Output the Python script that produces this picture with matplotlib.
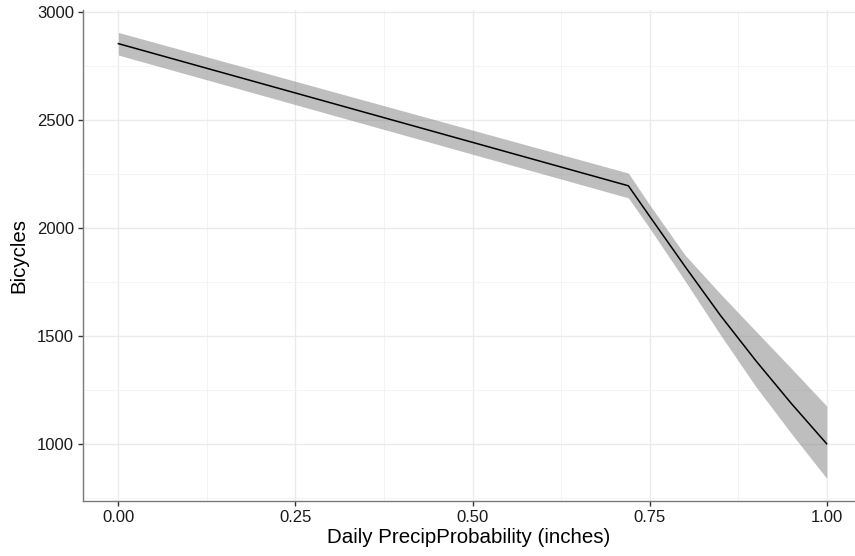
import matplotlib
matplotlib.use("Agg")
import matplotlib.pyplot as plt
from matplotlib.ticker import MultipleLocator

plt.rcParams['font.family'] = ['Liberation Sans', 'DejaVu Sans']

# fitted curve and confidence band
precip = [0.00, 0.72, 0.75, 0.80, 0.85, 0.90, 0.95, 1.00]
fit = [2855, 2196, 2055, 1822, 1595, 1385, 1187, 1000]
upper = [2907, 2255, 2108, 1875, 1695, 1522, 1350, 1175]
lower = [2802, 2140, 2000, 1755, 1505, 1265, 1048, 840]

xticks = [0.00, 0.25, 0.50, 0.75, 1.00]
xticklabels = ["0.00", "0.25", "0.50", "0.75", "1.00"]
yticks = [1000, 1500, 2000, 2500, 3000]

fig = plt.figure(figsize=(8.55, 5.56), dpi=100)
ax = fig.add_axes([83/855, 55.3/556, (855-83)/855, 490.7/556])

ax.fill_between(precip, lower, upper, color='#7f7f7f', alpha=0.5, linewidth=0, zorder=2)
ax.plot(precip, fit, color='black', linewidth=1.1, zorder=3)

ax.set_xlim(-0.05, 1.04)
ax.set_ylim(736, 3011)
ax.set_xticks(xticks)
ax.set_xticklabels(xticklabels)
ax.set_yticks(yticks)
ax.xaxis.set_minor_locator(MultipleLocator(0.125))
ax.yaxis.set_minor_locator(MultipleLocator(250))

ax.grid(True, which='major', color='#EBEBEB', linewidth=1.0, zorder=0)
ax.grid(True, which='minor', color='#F3F3F3', linewidth=0.6, zorder=0)
ax.set_axisbelow(True)

for side in ['top', 'right']:
    ax.spines[side].set_visible(False)
for side in ['left', 'bottom']:
    ax.spines[side].set_color('#7a7a7a')
    ax.spines[side].set_linewidth(1.0)

ax.tick_params(which='major', length=3.5, width=1.0, color='#333333',
               labelsize=12, labelcolor='#1a1a1a', pad=3)
ax.tick_params(which='minor', length=0)

ax.set_xlabel("Daily PrecipProbability (inches)", fontsize=14.8, labelpad=2)
ax.set_ylabel("Bicycles", fontsize=14.8, labelpad=6)

fig.savefig("out.png", dpi=100)
